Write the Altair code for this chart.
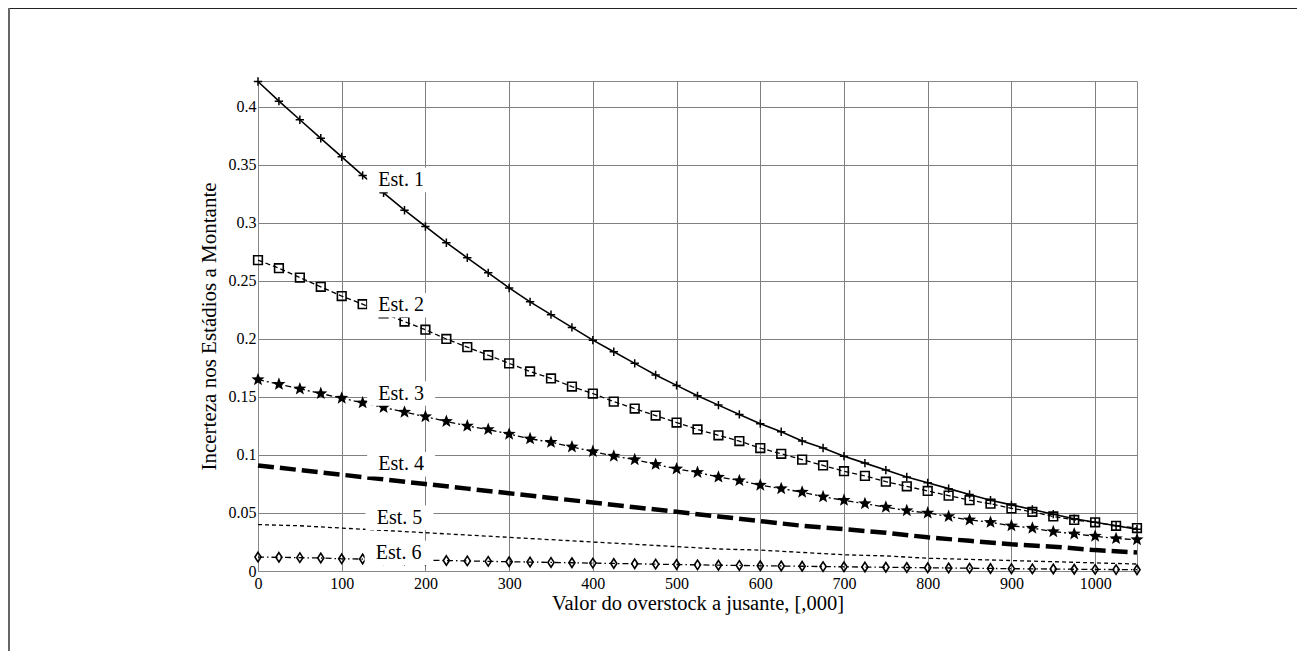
import math
import altair as alt
import pandas as pd

# ---------------- data ----------------
x25 = [0, 25, 50, 75, 100, 125, 150, 175, 200, 225, 250, 275, 300, 325, 350, 375,
       400, 425, 450, 475, 500, 525, 550, 575, 600, 625, 650, 675, 700, 725, 750,
       775, 800, 825, 850, 875, 900, 925, 950, 975, 1000, 1025, 1050]
x50 = [0, 50, 100, 150, 200, 250, 300, 350, 400, 450, 500, 550, 600, 650, 700,
       750, 800, 850, 900, 950, 1000, 1050]

est1 = [0.422, 0.405, 0.389, 0.373, 0.357, 0.341, 0.326, 0.311, 0.297, 0.283, 0.270,
        0.257, 0.244, 0.232, 0.221, 0.210, 0.199, 0.189, 0.179, 0.169, 0.160, 0.151,
        0.143, 0.135, 0.127, 0.120, 0.112, 0.106, 0.099, 0.093, 0.087, 0.081, 0.076,
        0.071, 0.066, 0.061, 0.057, 0.053, 0.049, 0.045, 0.042, 0.039, 0.036]
est2 = [0.268, 0.261, 0.253, 0.245, 0.237, 0.230, 0.222, 0.215, 0.208, 0.200, 0.193,
        0.186, 0.179, 0.172, 0.166, 0.159, 0.153, 0.146, 0.140, 0.134, 0.128, 0.122,
        0.117, 0.112, 0.106, 0.101, 0.096, 0.091, 0.086, 0.082, 0.077, 0.073, 0.069,
        0.065, 0.061, 0.058, 0.054, 0.051, 0.047, 0.044, 0.042, 0.039, 0.037]
est3 = [0.165, 0.161, 0.157, 0.153, 0.149, 0.145, 0.141, 0.137, 0.133, 0.129, 0.125,
        0.122, 0.118, 0.114, 0.111, 0.107, 0.103, 0.099, 0.096, 0.092, 0.088, 0.085,
        0.081, 0.078, 0.074, 0.071, 0.068, 0.064, 0.061, 0.058, 0.055, 0.052, 0.050,
        0.047, 0.044, 0.042, 0.039, 0.037, 0.034, 0.032, 0.030, 0.028, 0.027]
est4 = [0.091, 0.087, 0.083, 0.079, 0.075, 0.071, 0.067, 0.063, 0.059, 0.055, 0.051,
        0.047, 0.043, 0.039, 0.036, 0.033, 0.029, 0.026, 0.023, 0.021, 0.018, 0.016]
est5 = [0.040, 0.039, 0.037, 0.035, 0.033, 0.031, 0.029, 0.027, 0.025, 0.023, 0.021,
        0.019, 0.018, 0.016, 0.014, 0.013, 0.011, 0.010, 0.009, 0.008, 0.007, 0.006]
est6 = [0.0120, 0.0118, 0.0115, 0.0112, 0.0105, 0.0103, 0.0100, 0.0097, 0.0093, 0.0090,
        0.0087, 0.0083, 0.0080, 0.0077, 0.0074, 0.0071, 0.0068, 0.0065, 0.0062, 0.0059,
        0.0056, 0.0053, 0.0050, 0.0048, 0.0045, 0.0043, 0.0041, 0.0038, 0.0036, 0.0034,
        0.0032, 0.0030, 0.0028, 0.0026, 0.0024, 0.0022, 0.0020, 0.0018, 0.0017, 0.0015,
        0.0014, 0.0012, 0.0011]

label_text = ["Est. 1", "Est. 2", "Est. 3", "Est. 4", "Est. 5", "Est. 6"]
label_x = [171, 171, 171, 171, 169, 168]
label_y = [0.337, 0.229, 0.153, 0.092, 0.046, 0.0155]

x_ticks = [0, 100, 200, 300, 400, 500, 600, 700, 800, 900, 1000]
y_ticks = [0, 0.05, 0.1, 0.15, 0.2, 0.25, 0.3, 0.35, 0.4]

x_title = "Valor do overstock a jusante, [,000]"
y_title = "Incerteza nos Estádios a Montante"

# ---------------- styling helpers ----------------
FONT = "Liberation Serif"
W, H = 879, 490
XDOM = [0, 1050]
YDOM = [0, 0.4224]


def star_path():
    pts = []
    for i in range(10):
        r = 1.0 if i % 2 == 0 else 0.42
        a = -math.pi / 2 + i * math.pi / 5
        pts.append(f"{r * math.cos(a):.3f},{r * math.sin(a):.3f}")
    return "M" + "L".join(pts) + "Z"


PLUS = "M-1,0L1,0M0,-1L0,1"
DIAMOND = "M0,-1L0.65,0L0,1L-0.65,0Z"
BOX = "M-1,-0.36L1,-0.36L1,0.36L-1,0.36Z"

xs = alt.Scale(domain=XDOM, nice=False, zero=False)
ys = alt.Scale(domain=YDOM, nice=False, zero=False)

xaxis = alt.Axis(values=x_ticks, title=x_title, grid=True, ticks=False,
                 format="d",
                 labelFont=FONT, labelFontSize=16, labelColor="black",
                 labelPadding=4, titleFont=FONT, titleFontSize=20.5,
                 titleFontWeight="normal", titleColor="black", titlePadding=2,
                 domainColor="#888888", gridColor="#808080", gridWidth=1,
                 labelFlush=False)
yaxis = alt.Axis(values=y_ticks, title=y_title, grid=True, ticks=False,
                 format="~g", labelFont=FONT, labelFontSize=16,
                 labelColor="black", labelPadding=2, titleFont=FONT,
                 titleFontSize=21, titleFontWeight="normal",
                 titleColor="black", titlePadding=9,
                 domainColor="#888888", gridColor="#808080", gridWidth=1,
                 labelFlush=False)


def enc():
    return dict(x=alt.X("x:Q", scale=xs, axis=xaxis),
                y=alt.Y("y:Q", scale=ys, axis=yaxis))


def series(xv, yv, dash, width, shape=None, size=60, filled=False, swm=1.3):
    df = pd.DataFrame({"x": xv, "y": yv})
    line_kw = dict(color="black", strokeWidth=width)
    if dash:
        line_kw["strokeDash"] = dash
    layers = [alt.Chart(df).mark_line(**line_kw).encode(**enc())]
    if shape is not None:
        pt = alt.Chart(df).mark_point(
            shape=shape, size=size, filled=filled,
            color="black", strokeWidth=swm, opacity=1
        ).encode(**enc())
        layers.append(pt)
    return layers


layers = []
layers += series(x25, est1, None, 1.6, PLUS, 70, False, 1.5)
layers += series(x25, est2, [5, 3], 1.3, "square", 75, False, 1.6)
layers += series(x25, est3, [6, 3, 2, 3], 1.3, star_path(), 190, True, 0.5)
layers += series(x50, est4, [16, 6], 4.5)
layers += series(x50, est5, [4, 3], 1.3)
layers += series(x25, est6, [6, 3, 1.5, 3], 1.3, DIAMOND, 90, False, 1.6)

lab = pd.DataFrame({"x": label_x, "y": label_y, "t": label_text})
bg = alt.Chart(lab).mark_point(
    shape=BOX, size=68 * 68, filled=True, color="white", opacity=1, strokeWidth=0
).encode(**enc())
txt = alt.Chart(lab).mark_text(
    font=FONT, fontSize=20, color="black", align="center", baseline="middle"
).encode(text="t:N", **enc())
layers += [bg, txt]

# figure frame (top and left edges of the original picture border)
frame_top = alt.Chart(lab).mark_rule(color="#222222", strokeWidth=1).encode(
    x=alt.value(-250), x2=alt.value(1060), y=alt.value(-72.5))
frame_left = alt.Chart(lab).mark_rule(color="#666666", strokeWidth=1.5).encode(
    x=alt.value(-249.2), y=alt.value(-73), y2=alt.value(H + 90))
layers += [frame_top, frame_left]

chart = alt.layer(*layers).properties(
    width=W, height=H,
    autosize=alt.AutoSizeParams(type="none"),
    padding={"left": 250, "top": 73, "right": 160, "bottom": 80},
    background="white",
).configure_view(stroke="#888888", strokeWidth=1)

chart.save("out.html", embed_options={"renderer": "svg", "actions": False})
